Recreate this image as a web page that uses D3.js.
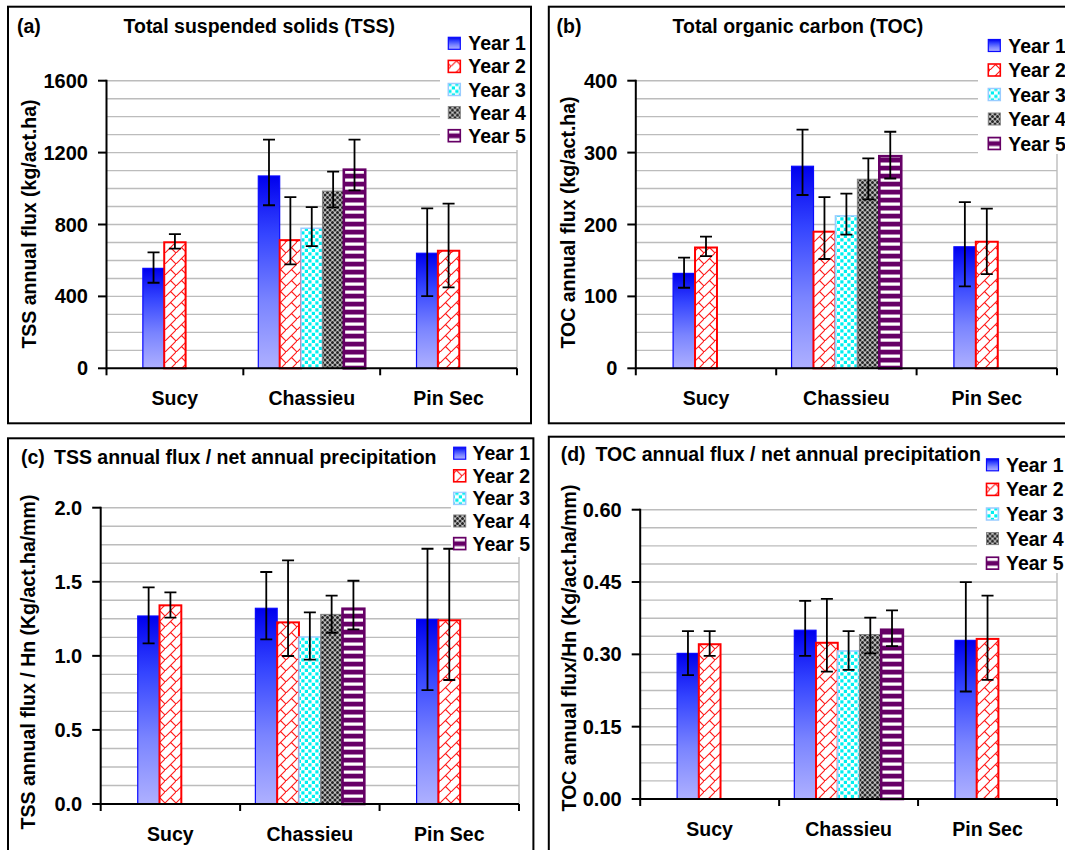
<!DOCTYPE html>
<html>
<head>
<meta charset="utf-8">
<script src="https://cdn.jsdelivr.net/npm/d3@7"></script>
<style>
  body { margin: 0; background: #fff; }
  text { font-family: "Liberation Sans", Arial, sans-serif; font-weight: bold; fill: #000; }
</style>
</head>
<body>
<div id="chart"></div>
<script>
(function() {

const sites = ['Sucy', 'Chassieu', 'Pin Sec']
const years = ['Year 1', 'Year 2', 'Year 3', 'Year 4', 'Year 5']

// Sucy and Pin Sec only have years 1-2; Excel put them in slots 2-3 of 5
const slotShift = [1, 0, 1]

// mean value and the two ends of each error bar, per site then per year
const tssMean = [[556, 701], [1070, 713, 779, 986, 1105], [640, 654]]
const tssLow  = [[476, 666], [907, 578, 680, 895, 990], [402, 450]]
const tssHigh = [[645, 747], [1272, 952, 897, 1094, 1272], [890, 916]]
const tssTicks = [0, 400, 800, 1200, 1600]

const tocMean = [[132, 168], [281, 190, 212, 263, 295], [169, 176]]
const tocLow  = [[112, 156], [241, 152, 186, 235, 264], [114, 131]]
const tocHigh = [[154, 183], [332, 238, 243, 292, 329], [231, 222]]
const tocTicks = [0, 100, 200, 300, 400]

const tssHnMean = [[1.269, 1.341], [1.321, 1.226, 1.127, 1.280, 1.318], [1.246, 1.240]]
const tssHnLow  = [[1.084, 1.258], [1.111, 0.999, 0.974, 1.156, 1.179], [0.769, 0.837]]
const tssHnHigh = [[1.462, 1.428], [1.566, 1.645, 1.294, 1.406, 1.507], [1.723, 1.723]]
const tssHnTicks = [0, 0.5, 1.0, 1.5, 2.0]

const tocHnMean = [[0.302, 0.321], [0.350, 0.324, 0.307, 0.341, 0.351], [0.329, 0.332]]
const tocHnLow  = [[0.257, 0.297], [0.297, 0.264, 0.268, 0.302, 0.317], [0.223, 0.247]]
const tocHnHigh = [[0.348, 0.348], [0.411, 0.415, 0.348, 0.376, 0.391], [0.450, 0.422]]
const tocHnTicks = [0, 0.15, 0.30, 0.45, 0.60]

const width = 1065,
      height = 850

const svg = d3.select('#chart')
  .append('svg')
  .attr('width', width)
  .attr('height', height)

svg.append('rect')
  .attr('width', width)
  .attr('height', height)
  .attr('fill', '#fff')

// ---- fills for the five years ----
const defs = svg.append('defs')

const grad = defs.append('linearGradient')
  .attr('id', 'fillY1')
  .attr('x1', 0).attr('y1', 0).attr('x2', 0).attr('y2', 1)
const gradStops = [[0, '#0000ee'], [0.3, '#3444ff'], [0.65, '#7a84ff'], [1, '#aeb0ff']]
gradStops.forEach(function(s) {
  grad.append('stop').attr('offset', s[0]).attr('stop-color', s[1])
})

const p2 = defs.append('pattern').attr('id', 'fillY2')
  .attr('patternUnits', 'userSpaceOnUse').attr('width', 11).attr('height', 11)
p2.append('rect').attr('width', 11).attr('height', 11).attr('fill', '#fff')
p2.append('path').attr('d', 'M0,11L11,0M5.5,5.5L11,11M-1,-1L0,0')
  .attr('stroke', '#ff1a1a').attr('stroke-width', 1.1).attr('fill', 'none')

const p3 = defs.append('pattern').attr('id', 'fillY3')
  .attr('patternUnits', 'userSpaceOnUse').attr('width', 7).attr('height', 7)
p3.append('rect').attr('width', 7).attr('height', 7).attr('fill', '#fff')
p3.append('rect').attr('x', 0.3).attr('y', 0.3).attr('width', 3.2).attr('height', 3.2).attr('fill', '#00f0f0')
p3.append('rect').attr('x', 3.8).attr('y', 3.8).attr('width', 3.2).attr('height', 3.2).attr('fill', '#00f0f0')

const p4 = defs.append('pattern').attr('id', 'fillY4')
  .attr('patternUnits', 'userSpaceOnUse').attr('width', 5).attr('height', 5)
p4.append('rect').attr('width', 5).attr('height', 5).attr('fill', '#c4c4c4')
const p4dots = [[0, 0], [5, 0], [0, 5], [5, 5], [2.5, 2.5]]
p4dots.forEach(function(d) {
  p4.append('circle').attr('cx', d[0]).attr('cy', d[1]).attr('r', 1.5).attr('fill', '#262626')
})

const p5 = defs.append('pattern').attr('id', 'fillY5')
  .attr('patternUnits', 'userSpaceOnUse').attr('width', 8).attr('height', 8)
p5.append('rect').attr('width', 8).attr('height', 8).attr('fill', '#660066')
p5.append('rect').attr('y', 2.5).attr('width', 8).attr('height', 3.2).attr('fill', '#fff')

const yearStyle = [
  {fill: 'url(#fillY1)', stroke: '#0a0aff', sw: 1.2},
  {fill: 'url(#fillY2)', stroke: '#ff0000', sw: 2},
  {fill: 'url(#fillY3)', stroke: '#99ccff', sw: 1.5},
  {fill: 'url(#fillY4)', stroke: '#808080', sw: 1},
  {fill: 'url(#fillY5)', stroke: '#660066', sw: 2.6}
]

const panels = [
  {tag: '(a)', tagX: 17, title: 'Total suspended solids (TSS)', titleX: 123.5, titleY: 33.3,
   ylab: 'TSS annual flux (kg/act.ha)', ylabX: 28.5, ylabY: 224,
   mean: tssMean, low: tssLow, high: tssHigh, ticks: tssTicks, fmt: d3.format('d'),
   x0: 106.5, x1: 517, yTop: 80.7, yZero: 368.3,
   frame: [8, 6.7, 523, 416.6],
   leg: {bx: 440, by: 28, bw: 89, bh: 122, sx: 448.3, tx: 468.3, cy: 43.3, step: 23.1}},
  {tag: '(b)', tagX: 556.6, title: 'Total organic carbon (TOC)', titleX: 672.6, titleY: 33.3,
   ylab: 'TOC annual flux (kg/act.ha)', ylabX: 567.5, ylabY: 222.5,
   mean: tocMean, low: tocLow, high: tocHigh, ticks: tocTicks, fmt: d3.format('d'),
   x0: 635.8, x1: 1057, yTop: 80.7, yZero: 368.3,
   frame: [548.8, 6.7, 540, 416.6],
   leg: {bx: 978, by: 28, bw: 100, bh: 126, sx: 988.3, tx: 1008.3, cy: 45.5, step: 24.5}},
  {tag: '(c)', tagX: 21, title: 'TSS annual flux / net annual precipitation', titleX: 54, titleY: 464.3,
   ylab: 'TSS annual flux / Hn (Kg/act.ha/mm)', ylabX: 28, ylabY: 662,
   mean: tssHnMean, low: tssHnLow, high: tssHnHigh, ticks: tssHnTicks, fmt: d3.format('.1f'),
   x0: 100.7, x1: 519, yTop: 507.7, yZero: 804,
   frame: [8, 438.3, 525.4, 440],
   leg: {bx: 451, by: 440, bw: 81, bh: 117, sx: 453.7, tx: 472.6, cy: 453.2, step: 22.6}},
  {tag: '(d)', tagX: 560.7, title: 'TOC annual flux / net annual precipitation', titleX: 595.5, titleY: 461,
   ylab: 'TOC annual flux/Hn (Kg/act.ha/mm)', ylabX: 569, ylabY: 648,
   mean: tocHnMean, low: tocHnLow, high: tocHnHigh, ticks: tocHnTicks, fmt: d3.format('.2f'),
   x0: 640.2, x1: 1057, yTop: 509.7, yZero: 799,
   frame: [548.8, 436.7, 540, 440],
   leg: {bx: 977, by: 450, bw: 100, bh: 123, sx: 986.5, tx: 1006, cy: 464.8, step: 24.6}}
]

panels.forEach(drawPanel)

function drawPanel(p) {
  const g = svg.append('g')
  const top = p.ticks[p.ticks.length - 1]

  const x = d3.scaleBand()
    .domain(sites)
    .range([p.x0, p.x1])

  const y = d3.scaleLinear()
    .domain([0, top])
    .range([p.yZero, p.yTop])

  const barW = x.bandwidth() / 6.4
  const slot = d3.scaleBand()
    .domain(d3.range(5))
    .range([0, barW * 5])

  // gridlines, 4 per major tick
  const minor = (p.ticks[1] - p.ticks[0]) / 4
  const gridVals = d3.range(0, (p.ticks.length - 1) * 4 + 1).map(function(i) { return i * minor })
  g.selectAll('.grid')
    .data(gridVals.slice(1))
    .enter()
    .append('line')
    .attr('x1', p.x0).attr('x2', p.x1)
    .attr('y1', function(d) { return y(d) })
    .attr('y2', function(d) { return y(d) })
    .attr('stroke', '#bcbcbc')
    .attr('stroke-width', 1.4)

  g.append('line')
    .attr('x1', p.x1).attr('x2', p.x1)
    .attr('y1', p.yTop).attr('y2', p.yZero)
    .attr('stroke', '#bcbcbc')
    .attr('stroke-width', 1.4)

  // legend background hides the grid behind it
  g.append('rect')
    .attr('x', p.leg.bx).attr('y', p.leg.by)
    .attr('width', p.leg.bw).attr('height', p.leg.bh)
    .attr('fill', '#fff')

  // bars
  const bars = []
  sites.forEach(function(site, si) {
    p.mean[si].forEach(function(v, yi) {
      bars.push({site: site, year: yi, value: v, low: p.low[si][yi], high: p.high[si][yi],
                 x: x(site) + (x.bandwidth() - barW * 5) / 2 + slot(yi + slotShift[si])})
    })
  })

  g.selectAll('.bar')
    .data(bars)
    .enter()
    .append('rect')
    .attr('class', 'bar')
    .attr('x', function(d) { return d.x })
    .attr('width', barW)
    .attr('y', function(d) { return y(d.value) })
    .attr('height', function(d) { return y(0) - y(d.value) })
    .attr('fill', function(d) { return yearStyle[d.year].fill })
    .attr('stroke', function(d) { return yearStyle[d.year].stroke })
    .attr('stroke-width', function(d) { return yearStyle[d.year].sw })

  // error bars
  g.selectAll('.err')
    .data(bars)
    .enter()
    .append('path')
    .attr('d', function(d) {
      const cx = d.x + barW / 2, a = y(d.low), b = y(d.high)
      return 'M' + cx + ',' + a + 'V' + b +
             'M' + (cx - 6) + ',' + a + 'H' + (cx + 6) +
             'M' + (cx - 6) + ',' + b + 'H' + (cx + 6)
    })
    .attr('stroke', '#000')
    .attr('stroke-width', 1.8)
    .attr('fill', 'none')

  // y axis
  g.append('line')
    .attr('x1', p.x0).attr('x2', p.x0)
    .attr('y1', p.yTop - 1).attr('y2', p.yZero + 1)
    .attr('stroke', '#000').attr('stroke-width', 2)
  g.selectAll('.ytick')
    .data(p.ticks)
    .enter()
    .append('line')
    .attr('x1', p.x0 - 8.5).attr('x2', p.x0)
    .attr('y1', function(d) { return y(d) })
    .attr('y2', function(d) { return y(d) })
    .attr('stroke', '#000').attr('stroke-width', 2)
  g.selectAll('.ylab')
    .data(p.ticks)
    .enter()
    .append('text')
    .attr('x', p.x0 - 18.5)
    .attr('y', function(d) { return y(d) + 7 })
    .attr('text-anchor', 'end')
    .style('font-size', '20px')
    .text(function(d) { return p.fmt(d) })

  // x axis
  g.append('line')
    .attr('x1', p.x0).attr('x2', p.x1)
    .attr('y1', p.yZero).attr('y2', p.yZero)
    .attr('stroke', '#000').attr('stroke-width', 2)
  const bounds = sites.map(function(s) { return x(s) }).concat([p.x1])
  g.selectAll('.xtick')
    .data(bounds)
    .enter()
    .append('line')
    .attr('x1', function(d) { return d }).attr('x2', function(d) { return d })
    .attr('y1', p.yZero).attr('y2', p.yZero + 7)
    .attr('stroke', '#000').attr('stroke-width', 2)
  g.selectAll('.xlab')
    .data(sites)
    .enter()
    .append('text')
    .attr('x', function(d) { return x(d) + x.bandwidth() / 2 })
    .attr('y', p.yZero + 37)
    .attr('text-anchor', 'middle')
    .style('font-size', '19.5px')
    .text(function(d) { return d })

  // axis title
  g.append('text')
    .attr('transform', 'translate(' + p.ylabX + ',' + p.ylabY + ') rotate(-90)')
    .attr('y', 7)
    .attr('text-anchor', 'middle')
    .style('font-size', '19.5px')
    .text(p.ylab)

  // panel tag and title
  g.append('text').attr('x', p.tagX).attr('y', p.titleY)
    .style('font-size', '19.5px').text(p.tag)
  g.append('text').attr('x', p.titleX).attr('y', p.titleY)
    .style('font-size', '19.5px').text(p.title)

  // legend entries
  const leg = g.selectAll('.leg')
    .data(years)
    .enter()
    .append('g')
    .attr('transform', function(d, i) { return 'translate(0,' + (p.leg.cy + i * p.leg.step) + ')' })
  leg.append('rect')
    .attr('x', p.leg.sx).attr('y', -6)
    .attr('width', 12).attr('height', 12)
    .attr('fill', function(d, i) { return yearStyle[i].fill })
    .attr('stroke', function(d, i) { return yearStyle[i].stroke })
    .attr('stroke-width', function(d, i) { return Math.min(yearStyle[i].sw, 1.6) })
  leg.append('text')
    .attr('x', p.leg.tx).attr('y', 7)
    .style('font-size', '19.5px')
    .text(function(d) { return d })

  // frame around the panel
  g.append('rect')
    .attr('x', p.frame[0]).attr('y', p.frame[1])
    .attr('width', p.frame[2]).attr('height', p.frame[3])
    .attr('fill', 'none')
    .attr('stroke', '#000')
    .attr('stroke-width', 2)
}

})()
</script>
</body>
</html>
